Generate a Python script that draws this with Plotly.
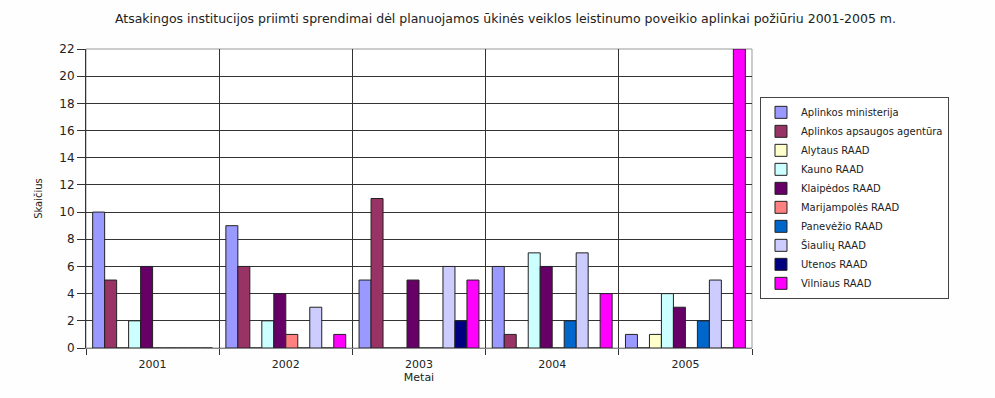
import plotly.graph_objects as go

# Years on the category axis
years = ["2001", "2002", "2003", "2004", "2005"]

# Decisions per institution, one value per year
aplinkos_ministerija = [10, 9, 5, 6, 1]
aplinkos_agentura = [5, 6, 11, 1, 0]
alytaus_raad = [0, 0, 0, 0, 1]
kauno_raad = [2, 2, 0, 7, 4]
klaipedos_raad = [6, 4, 5, 6, 3]
marijampoles_raad = [0, 1, 0, 0, 0]
panevezio_raad = [0, 0, 0, 2, 2]
siauliu_raad = [0, 3, 6, 7, 5]
utenos_raad = [0, 0, 2, 0, 0]
vilniaus_raad = [0, 1, 5, 4, 22]

series = [
    ("Aplinkos ministerija", aplinkos_ministerija, "#9999FF"),
    ("Aplinkos apsaugos agentūra", aplinkos_agentura, "#993366"),
    ("Alytaus RAAD", alytaus_raad, "#FFFFCC"),
    ("Kauno RAAD", kauno_raad, "#CCFFFF"),
    ("Klaipėdos RAAD", klaipedos_raad, "#660066"),
    ("Marijampolės RAAD", marijampoles_raad, "#FF8080"),
    ("Panevėžio RAAD", panevezio_raad, "#0066CC"),
    ("Šiaulių RAAD", siauliu_raad, "#CCCCFF"),
    ("Utenos RAAD", utenos_raad, "#000080"),
    ("Vilniaus RAAD", vilniaus_raad, "#FF00FF"),
]

fig = go.Figure()
for name, vals, color in series:
    fig.add_trace(go.Bar(
        name=name, x=years, y=vals,
        marker=dict(color=color, line=dict(color="#222222", width=1)),
    ))

font_family = "DejaVu Sans, Verdana, sans-serif"

fig.update_layout(
    width=995, height=398,
    margin=dict(l=86, r=243, t=49, b=50),
    paper_bgcolor="#FDFEFD",
    plot_bgcolor="#FFFFFF",
    barmode="group",
    bargap=0.1,
    bargroupgap=0,
    font=dict(family=font_family, size=10, color="#222222"),
    title=dict(
        text="Atsakingos institucijos priimti sprendimai dėl planuojamos ūkinės veiklos leistinumo poveikio aplinkai požiūriu 2001-2005 m.",
        x=0.508, xanchor="center", y=0.952, yanchor="middle",
        font=dict(size=12.5, color="#222222"),
    ),
    xaxis=dict(
        title=dict(text="Metai", font=dict(size=11), standoff=2),
        tickson="boundaries",
        showgrid=True, gridcolor="#333333", gridwidth=1,
        ticks="outside", ticklen=6, tickcolor="#333333",
        showline=True, linecolor="#888888", linewidth=1,
        tickfont=dict(size=11),
        ticklabelstandoff=6,
    ),
    yaxis=dict(
        title=dict(text="Skaičius", font=dict(size=10), standoff=14),
        range=[0, 22], dtick=2,
        showgrid=True, gridcolor="#333333", gridwidth=1,
        ticks="outside", ticklen=8, tickcolor="#333333",
        showline=True, linecolor="#333333", linewidth=1,
        tickfont=dict(size=12),
        zeroline=False,
    ),
    legend=dict(
        x=1.012, xanchor="left", y=0.84, yanchor="top",
        bgcolor="#FFFFFF", bordercolor="#444444", borderwidth=1,
        font=dict(size=10),
        tracegroupgap=0, itemwidth=30,
    ),
    # light frame along the top and right of the plotting area
    shapes=[dict(
        type="rect", xref="paper", yref="paper", x0=0, x1=1, y0=0, y1=1,
        line=dict(color="#999999", width=1), layer="below",
    )],
)

fig.write_html("out.html")
